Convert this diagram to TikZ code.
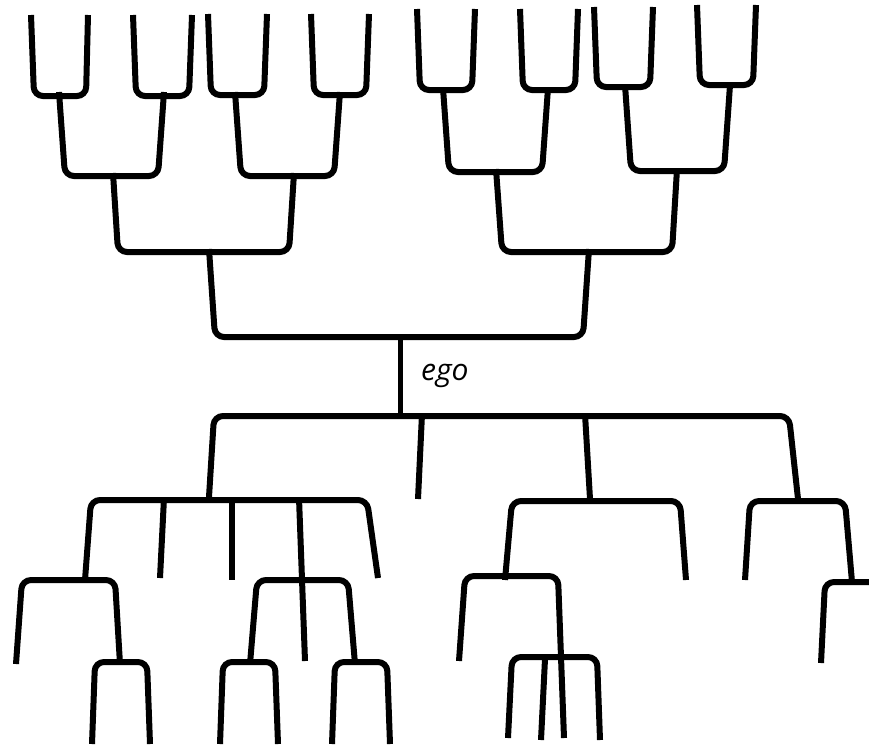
\documentclass[tikz,border=0pt]{standalone}
\usepackage{fontspec}
\setmainfont{Open Sans}

\tikzset{
    kin/.style={line width=6pt, rounded corners=9pt},
    leaf/.style={line width=6pt},
    egolabel/.style={font=\itshape\fontsize{30}{34}\selectfont, inner sep=0pt}
}

\begin{document}
\begin{tikzpicture}[x=1pt, y=-1pt]

        \useasboundingbox (0,0) rectangle (869,745);

        % Ancestors, top row
        \draw[kin] (31,15) -- (34,96) -- (86,96) -- (88,15);
        \draw[kin] (133,15) -- (136,96) -- (189,96) -- (192,15);
        \draw[kin] (208,14) -- (211,95) -- (264,95) -- (267,14);
        \draw[kin] (311,14) -- (314,95) -- (366,95) -- (369,14);
        \draw[kin] (417,9) -- (420,90) -- (472,90) -- (475,9);
        \draw[kin] (520,9) -- (523,90) -- (575,90) -- (578,9);
        \draw[kin] (594,7) -- (597,87) -- (650,87) -- (653,7);
        \draw[kin] (697,5) -- (700,85) -- (753,85) -- (756,5);

        % Ancestors, second row
        \draw[kin] (59,92) -- (65,176) -- (158,176) -- (164,92);
        \draw[kin] (235,92) -- (241,176) -- (334,176) -- (340,92);
        \draw[kin] (443,88) -- (449,172) -- (542,172) -- (548,88);
        \draw[kin] (625,85) -- (631,171) -- (724,171) -- (730,85);

        % Grandparents
        \draw[kin] (113,173) -- (118,252) -- (289,252) -- (294,173);
        \draw[kin] (496,169) -- (502,252) -- (672,252) -- (677,169);

        % Parents
        \draw[kin] (209,249) -- (215,337) -- (583,337) -- (589,249);

        % Ego
        \draw[leaf, line width=5pt] (400,335) -- (400,418);
        \node (ego) [egolabel, anchor=base west] at (421,380) {ego};

        % Children
        \draw[kin] (209,497) -- (214,416) -- (789,416) -- (798,499);
        \draw[kin] (422,414) -- (418,499);
        \draw[kin] (585,414) -- (590,499);

        % Grandchildren, left branch
        \draw[kin] (85,580) -- (91,500) -- (367,500) -- (378,578);
        \draw[kin] (164,498) -- (160,578);
        \draw[leaf] (232,500) -- (232,580);
        \draw[kin] (299,498) -- (305,661);

        \draw[kin] (16,664) -- (22,580) -- (115,580) -- (120,664);
        \draw[kin] (250,664) -- (257,580) -- (348,580) -- (355,664);

        \draw[kin] (92,744) -- (95,662) -- (147,662) -- (150,744);
        \draw[kin] (220,744) -- (223,662) -- (275,662) -- (278,744);
        \draw[kin] (332,744) -- (335,662) -- (387,662) -- (390,744);

        % Grandchildren, middle branch
        \draw[kin] (505,580) -- (512,501) -- (680,501) -- (686,580);
        \draw[kin] (459,661) -- (465,576) -- (558,576) -- (564,738);
        \draw[kin] (508,738) -- (512,657) -- (597,657) -- (600,740);
        \draw[kin] (545,659) -- (541,740);

        % Grandchildren, right branch
        \draw[kin] (745,580) -- (750,501) -- (845,501) -- (852,582);
        \draw[kin] (821,663) -- (825,582) -- (869,582);

\end{tikzpicture}
\end{document}
